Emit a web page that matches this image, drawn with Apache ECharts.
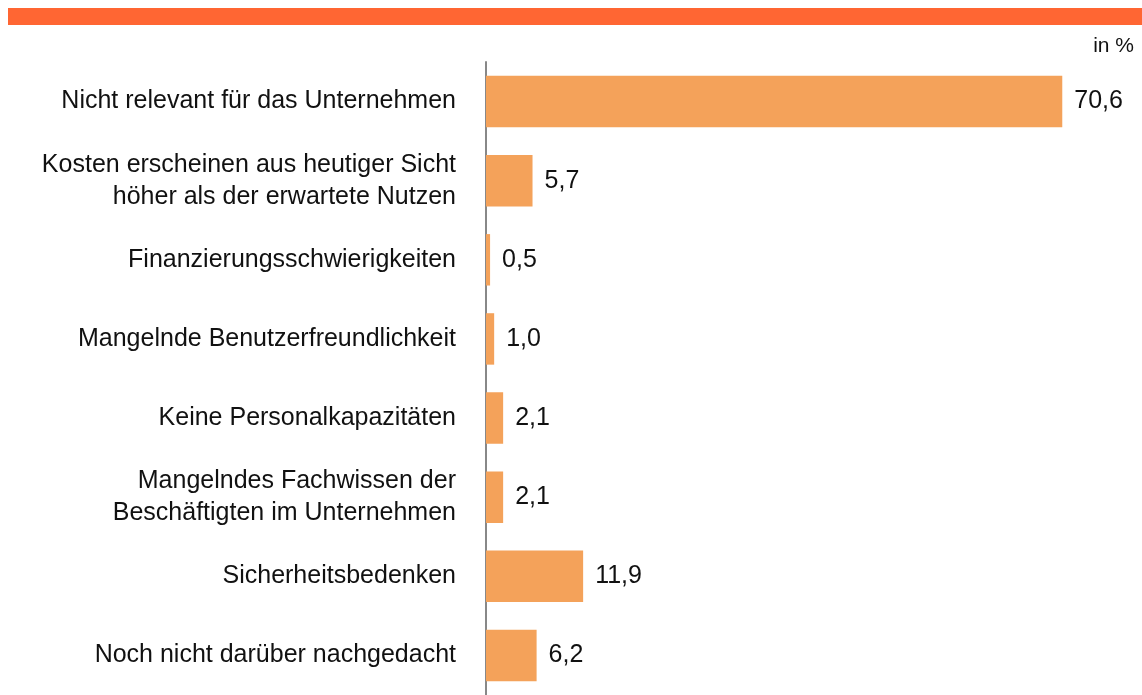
<!DOCTYPE html>
<html>
<head>
<meta charset="utf-8">
<script src="https://cdn.jsdelivr.net/npm/echarts@6/dist/echarts.min.js"></script>
<style>
  html, body { margin: 0; padding: 0; background: #fff; }
  #chart { width: 1142px; height: 695px; }
</style>
</head>
<body>
<div id="chart"></div>
<script>
const categories = [
  'Nicht relevant für das Unternehmen',
  'Kosten erscheinen aus heutiger Sicht\nhöher als der erwartete Nutzen',
  'Finanzierungsschwierigkeiten',
  'Mangelnde Benutzerfreundlichkeit',
  'Keine Personalkapazitäten',
  'Mangelndes Fachwissen der\nBeschäftigten im Unternehmen',
  'Sicherheitsbedenken',
  'Noch nicht darüber nachgedacht'
];
const values = [70.6, 5.7, 0.5, 1.0, 2.1, 2.1, 11.9, 6.2];
const unitLabel = 'in %';

const chart = echarts.init(document.getElementById('chart'));
const font = '"Liberation Sans", Arial, sans-serif';

chart.setOption({
  animation: false,
  textStyle: { fontFamily: font },
  graphic: [
    {
      type: 'rect',
      shape: { x: 8, y: 8, width: 1134, height: 17 },
      style: { fill: '#FF6633' }
    },
    {
      type: 'text',
      right: 8,
      top: 36,
      style: { text: unitLabel, font: '21px ' + font, fill: '#111' }
    }
  ],
  grid: { left: 486, top: 62, width: 653, height: 640, containLabel: false },
  xAxis: {
    type: 'value',
    min: 0,
    max: 80,
    show: false
  },
  yAxis: {
    type: 'category',
    inverse: true,
    data: categories,
    axisLine: { show: true, lineStyle: { color: '#888', width: 2 } },
    axisTick: { show: false },
    axisLabel: {
      margin: 30,
      fontSize: 25,
      lineHeight: 32,
      color: '#111',
      fontFamily: font,
      align: 'right'
    }
  },
  series: [{
    type: 'bar',
    data: values,
    barCategoryGap: '35%',
    itemStyle: { color: '#F4A25A' },
    label: {
      show: true,
      position: 'right',
      distance: 12,
      fontSize: 25,
      color: '#111',
      fontFamily: font,
      formatter: p => p.value.toFixed(1).replace('.', ',')
    }
  }]
});
</script>
</body>
</html>
